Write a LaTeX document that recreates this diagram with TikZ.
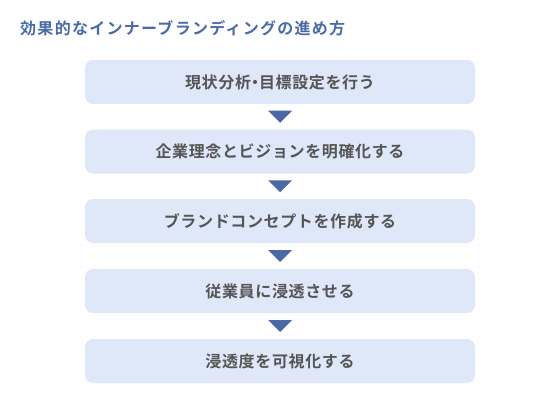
\documentclass[tikz,border=0pt]{standalone}
\usepackage{fontspec}
\setmainfont{Noto Sans CJK JP}[BoldFont={Noto Sans CJK JP Bold}]
\newcommand{\pdot}{{\addfontfeatures{RawFeature=+palt}・}}
\begin{document}
\begin{tikzpicture}[x=1pt,y=-1pt,
  stepbox/.style={fill=boxfill, rounded corners=8pt, minimum width=390pt, minimum height=44pt, inner sep=0pt, text=txtgray, font=\fontsize{16}{18}\selectfont\bfseries\addfontfeatures{LetterSpace=4}},
  tri/.style={fill=triblue, draw=none}]
\definecolor{boxfill}{HTML}{DFE8F8}
\definecolor{txtgray}{HTML}{555555}
\definecolor{triblue}{HTML}{4A68A6}
\definecolor{titleblue}{HTML}{4A6AA8}
\useasboundingbox (0,0) rectangle (560,404);
\node[anchor=west, inner sep=0pt, text=titleblue, font=\fontsize{16}{18}\selectfont\bfseries\addfontfeatures{LetterSpace=8}] (title) at (20,28.5) {効果的なインナーブランディングの進め方};
\node[stepbox] (s1) at (280,82) {現状分析\pdot 目標設定を行う};
\node[stepbox] (s2) at (280,151.5) {企業理念とビジョンを明確化する};
\node[stepbox] (s3) at (280,221) {ブランドコンセプトを作成する};
\node[stepbox] (s4) at (280,291) {従業員に浸透させる};
\node[stepbox] (s5) at (280,361) {浸透度を可視化する};
\foreach \a/\b in {s1/s2,s2/s3,s3/s4,s4/s5}{
  \path (\a.south) -- (\b.north) coordinate[midway] (m\a);
  \fill[tri] ([xshift=-12pt,yshift=6pt]m\a) -- ([xshift=12pt,yshift=6pt]m\a) -- ([yshift=-6pt]m\a) -- cycle;
}
\end{tikzpicture}
\end{document}
